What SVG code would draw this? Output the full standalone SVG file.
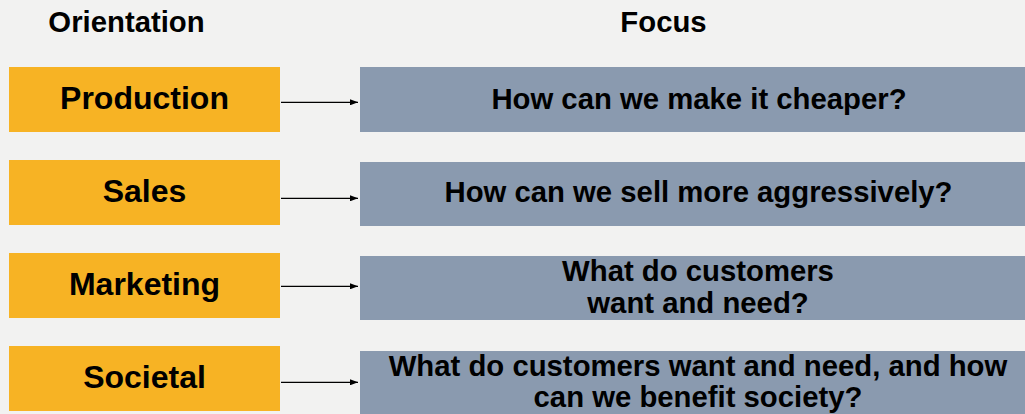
<svg xmlns="http://www.w3.org/2000/svg" width="1025" height="414" viewBox="0 0 1025 414">
  <style>
    text { font-family: "Liberation Sans", Arial, sans-serif; font-weight: bold; fill: #000; text-anchor: middle; }
    .hdr { font-size: 29.3px; }
    .orient { fill: #F7B324; }
    .focus { fill: #8A9AAF; }
    .olabel { font-size: 32px; }
    .flabel { font-size: 29.3px; }
    .conn { stroke: #000; stroke-width: 1.3; fill: none; marker-end: url(#arrow); }
  </style>
  <defs>
    <marker id="arrow" viewBox="0 0 8 6" refX="8" refY="3" markerWidth="8" markerHeight="6" markerUnits="userSpaceOnUse" orient="auto">
      <path d="M0,0 L8,3 L0,6 Z" fill="#000"/>
    </marker>
  </defs>

  <rect width="1025" height="414" fill="#F2F2F1"/>

  <!-- column headers -->
  <text class="hdr" x="126.5" y="32">Orientation</text>
  <text class="hdr" x="663.5" y="32">Focus</text>

  <!-- orientation nodes -->
  <g id="production">
    <rect class="orient" x="9" y="67" width="271" height="65"/>
    <text class="olabel" x="144.5" y="109.3">Production</text>
  </g>
  <g id="sales">
    <rect class="orient" x="9" y="160" width="271" height="65"/>
    <text class="olabel" x="144.5" y="202.3">Sales</text>
  </g>
  <g id="marketing">
    <rect class="orient" x="9" y="253" width="271" height="65"/>
    <text class="olabel" x="144.5" y="295.3">Marketing</text>
  </g>
  <g id="societal">
    <rect class="orient" x="9" y="346" width="271" height="65"/>
    <text class="olabel" x="144.5" y="388.3">Societal</text>
  </g>

  <!-- focus nodes -->
  <g id="focus-production">
    <rect class="focus" x="360" y="67" width="680" height="65"/>
    <text class="flabel" x="699" y="108.5">How can we make it cheaper?</text>
  </g>
  <g id="focus-sales">
    <rect class="focus" x="360" y="162" width="680" height="64"/>
    <text class="flabel" x="698.5" y="201.7">How can we sell more aggressively?</text>
  </g>
  <g id="focus-marketing">
    <rect class="focus" x="360" y="256" width="680" height="64"/>
    <text class="flabel" x="698" y="280.7">What do customers</text>
    <text class="flabel" x="698" y="312.5">want and need?</text>
  </g>
  <g id="focus-societal">
    <rect class="focus" x="360" y="351" width="680" height="70"/>
    <text class="flabel" x="698" y="375.7">What do customers want and need, and how</text>
    <text class="flabel" x="698" y="406.7">can we benefit society?</text>
  </g>

  <!-- connectors -->
  <g id="connectors">
    <line class="conn" x1="281" y1="102.3" x2="358" y2="102.3"/>
    <line class="conn" x1="281" y1="198.3" x2="358" y2="198.3"/>
    <line class="conn" x1="281" y1="286.3" x2="358" y2="286.3"/>
    <line class="conn" x1="281" y1="382.3" x2="358" y2="382.3"/>
  </g>
</svg>
